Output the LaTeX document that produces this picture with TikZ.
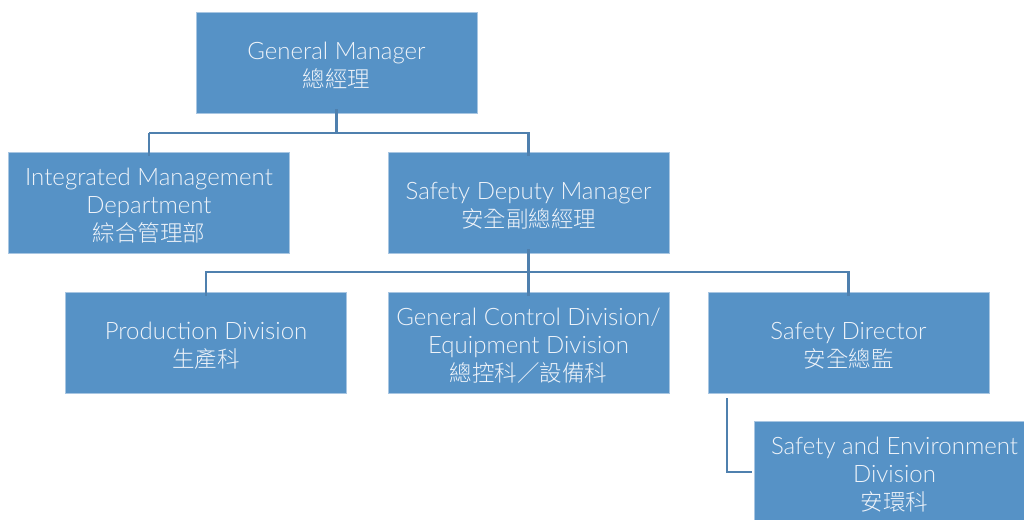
\documentclass[tikz,border=0pt]{standalone}
\usepackage{fontspec}
\setmainfont{Lato Light}
\newfontfamily\cjkfont{Noto Sans CJK TC Light}
\newcommand{\cjk}{\cjkfont\fontsize{22.5}{28}\selectfont}
\newcommand{\boxtext}[1]{\raisebox{-5pt}[\height][\depth]{\begin{tabular}{@{}c@{}}#1\end{tabular}}}
\definecolor{boxfill}{HTML}{5692C6}
\definecolor{boxedge}{HTML}{A8C6E2}
\definecolor{linec}{HTML}{4F80AE}
\definecolor{textc}{HTML}{EEF3F9}
\tikzset{
  orgbox/.style={rectangle, fill=boxfill, draw=boxedge, line width=0.8pt,
    minimum width=281pt, minimum height=101pt, inner sep=0pt,
    text=textc, font=\fontsize{24}{28}\selectfont},
  conn/.style={draw=linec, line width=2.6pt}
}
\begin{document}
\begin{tikzpicture}[x=1pt,y=-1pt]
\useasboundingbox (0,0) rectangle (1024,519);
\begin{scope}
\clip (0,0) rectangle (1024,519);
\node[orgbox] (gm) at (336.5,62.5) {\boxtext{General Manager\\{\cjk 總經理}}};
\node[orgbox] (imd) at (149,202.5) {\boxtext{Integrated Management\\Department\\{\cjk 綜合管理部}}};
\node[orgbox] (sdm) at (528.5,202.5) {\boxtext{Safety Deputy Manager\\{\cjk 安全副總經理}}};
\node[orgbox] (prod) at (206,342.5) {\boxtext{Production Division\\{\cjk 生產科}}};
\node[orgbox] (gcd) at (528.5,342.5) {\boxtext{General Control Division/\\Equipment Division\\{\cjk 總控科／設備科}}};
\node[orgbox] (sd) at (848.5,342.5) {\boxtext{Safety Director\\{\cjk 安全總監}}};
\node[orgbox] (sed) at (894.5,471.5) {\boxtext{Safety and Environment\\Division\\{\cjk 安環科}}};
\end{scope}
\coordinate (j1) at (336.5,133);
\coordinate (j2) at (528.5,272);
\draw[conn] ([yshift=4pt]gm.south) -- (j1);
\draw[conn] (imd.north |- j1) -- ([yshift=-4pt]imd.north) ;
\draw[conn] (imd.north |- j1) -- (sdm.north |- j1) -- ([yshift=-4pt]sdm.north);
\draw[conn] ([yshift=4pt]sdm.south) -- ([yshift=-4pt]gcd.north);
\draw[conn] ([yshift=-4pt]prod.north) -- (prod.north |- j2) -- (sd.north |- j2) -- ([yshift=-4pt]sd.north);
\coordinate (sdtop) at (727,398);
\draw[conn] (sdtop) |- ([xshift=-2pt]sed.west |- 0,472);
\end{tikzpicture}
\end{document}
